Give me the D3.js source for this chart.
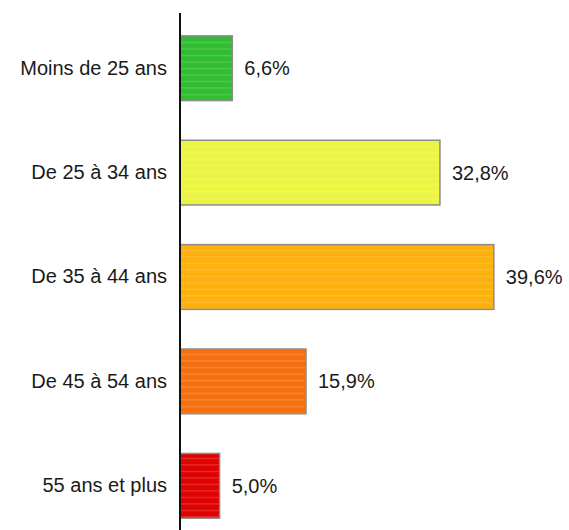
<!DOCTYPE html>
<html>
<head>
<meta charset="utf-8">
<script src="https://cdn.jsdelivr.net/npm/d3@7"></script>
<style>
  body { margin: 0; background: #fff; }
  text { font-family: "Liberation Sans", Arial, sans-serif; fill: #1a1a1a; }
</style>
</head>
<body>
<svg class="chart"></svg>
<script>
// age groups and their share
var categories = ["Moins de 25 ans", "De 25 à 34 ans", "De 35 à 44 ans", "De 45 à 54 ans", "55 ans et plus"];
var values = [6.6, 32.8, 39.6, 15.9, 5.0];
var labels = ["6,6%", "32,8%", "39,6%", "15,9%", "5,0%"];
var colors = ["#30bd30", "#ebf542", "#fdb10a", "#f66f0e", "#df0202"];

var width = 569, height = 530;
var left = 180;

var svg = d3.select(".chart")
    .attr("width", width)
    .attr("height", height);

// horizontal scale: percent -> px from the axis
var x = d3.scaleLinear()
    .domain([0, 40])
    .range([left, left + 317]);

var y = d3.scaleBand()
    .domain(categories)
    .range([16, 538])
    .paddingInner(0.38)
    .paddingOuter(0.19);

// faint horizontal stripes over the bars
var defs = svg.append("defs");
defs.append("pattern")
    .attr("id", "stripes")
    .attr("patternUnits", "userSpaceOnUse")
    .attr("width", 8)
    .attr("height", 6.5)
  .append("rect")
    .attr("width", 8)
    .attr("height", 1)
    .attr("y", 3)
    .attr("fill", "#fff")
    .attr("fill-opacity", 0.22);

var data = categories.map(function(c, i) {
  return {name: c, value: values[i], label: labels[i], color: colors[i]};
});

var bar = svg.selectAll(".bar")
    .data(data)
  .enter().append("g")
    .attr("class", "bar");

bar.append("rect")
    .attr("x", x(0))
    .attr("y", function(d) { return y(d.name); })
    .attr("width", function(d) { return x(d.value) - x(0); })
    .attr("height", y.bandwidth())
    .attr("fill", function(d) { return d.color; })
    .attr("stroke", "#8c8c8c")
    .attr("stroke-width", 1.5);

bar.append("rect")
    .attr("x", x(0) + 1)
    .attr("y", function(d) { return y(d.name) + 1; })
    .attr("width", function(d) { return x(d.value) - x(0) - 2; })
    .attr("height", y.bandwidth() - 2)
    .attr("fill", "url(#stripes)");

// value labels
bar.append("text")
    .attr("x", function(d) { return x(d.value) + 12; })
    .attr("y", function(d) { return y(d.name) + y.bandwidth() / 2; })
    .attr("dy", "0.35em")
    .attr("font-size", 20)
    .text(function(d) { return d.label; });

// category axis: only the line and the labels
var yAxis = d3.axisLeft(y).tickSize(0).tickPadding(13);
var ax = svg.append("g")
    .attr("transform", "translate(" + left + ",0)")
    .call(yAxis);
ax.select(".domain").remove();
ax.selectAll("text")
    .attr("font-size", 20)
    .style("font-family", "\"Liberation Sans\", Arial, sans-serif")
    .attr("fill", "#1a1a1a");

svg.append("line")
    .attr("x1", left).attr("x2", left)
    .attr("y1", 13).attr("y2", height)
    .attr("stroke", "#111")
    .attr("stroke-width", 2);
</script>
</body>
</html>
